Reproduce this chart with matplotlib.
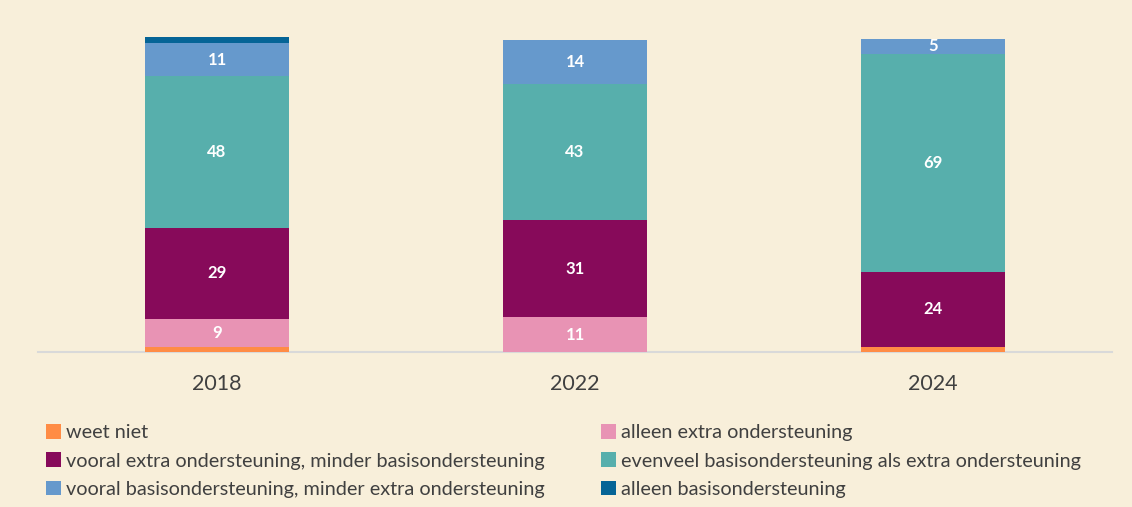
import matplotlib
matplotlib.use("Agg")
from matplotlib import pyplot as plt
from matplotlib.patches import Patch

plt.rcParams['font.family'] = ['Lato', 'DejaVu Sans']

years = ["2018", "2022", "2024"]
series = [
    "weet niet",
    "alleen extra ondersteuning",
    "vooral extra ondersteuning, minder basisondersteuning",
    "evenveel basisondersteuning als extra ondersteuning",
    "vooral basisondersteuning, minder extra ondersteuning",
    "alleen basisondersteuning",
]
weet_niet = [1.5, 0, 1.5]
alleen_extra = [9, 11, 0]
vooral_extra = [29, 31, 24]
evenveel = [48, 43, 69]
vooral_basis = [10.5, 14, 5]
alleen_basis = [2, 0, 0]
colors = ["#FF8C45", "#E893B4", "#870A5A", "#57AFAC", "#6699CC", "#056496"]

values = [weet_niet, alleen_extra, vooral_extra, evenveel, vooral_basis, alleen_basis]
bg = "#F8EFDA"

fig = plt.figure(figsize=(11.32, 5.07), dpi=100, facecolor=bg)
ax = fig.add_axes([38 / 1132, (507 - 352) / 507, 1074 / 1132, 315 / 507])
ax.set_facecolor(bg)

x = range(len(years))
bottom = [0, 0, 0]
for vals, col in zip(values, colors):
    ax.bar(x, vals, width=0.40, bottom=bottom, color=col, clip_on=False, zorder=2)
    for i, v in enumerate(vals):
        if v >= 5:
            ax.text(i, bottom[i] + v / 2, str(int(v + 0.5)), ha="center", va="center",
                    color="white", fontsize=12, fontweight="bold", zorder=3)
    bottom = [b + v for b, v in zip(bottom, vals)]

ax.set_xlim(-0.5, 2.5)
ax.set_ylim(0, 100)
ax.set_xticks(list(x))
ax.set_xticklabels(years, fontsize=15.5, color="#404040")
ax.tick_params(axis="x", length=0, pad=16)
ax.set_yticks([])
for s in ["top", "right", "left"]:
    ax.spines[s].set_visible(False)
ax.spines["bottom"].set_color("#D9D9D9")
ax.spines["bottom"].set_linewidth(1.5)
ax.spines["bottom"].set_zorder(1)

handles = [Patch(facecolor=c, edgecolor="none") for c in colors]
leg_kw = dict(frameon=False, fontsize=14.3, labelcolor="#404040", handlelength=0.75,
              handleheight=0.75, handletextpad=0.25, labelspacing=0.56, borderpad=0,
              borderaxespad=0, loc="upper left")
fig.legend([handles[0], handles[2], handles[4]], [series[0], series[2], series[4]],
           bbox_to_anchor=(46 / 1132, 1 - 424 / 507), **leg_kw)
fig.legend([handles[1], handles[3], handles[5]], [series[1], series[3], series[5]],
           bbox_to_anchor=(601 / 1132, 1 - 424 / 507), **leg_kw)

fig.savefig("out.png", dpi=100, facecolor=bg)
